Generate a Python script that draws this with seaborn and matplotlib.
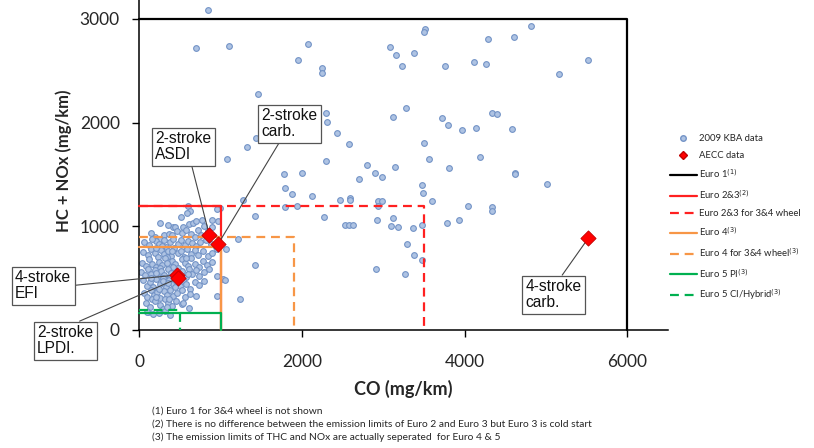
import numpy as np
import pandas as pd
import matplotlib
matplotlib.use('Agg')
import matplotlib.pyplot as plt
import seaborn as sns
from matplotlib.lines import Line2D

# 2009 KBA data, sparse part (CO, HC+NOx in mg/km)
kba_co_sparse = [841, 693, 1107, 2074, 1955, 2250, 2250, 3082, 3156, 3225, 1463, 3283, 2299, 2307,
                 3119, 2426, 1435, 2578, 1320, 1082, 2291, 2803, 3143, 1783, 2004, 2894, 2980, 2697,
                 1787, 1881, 2119, 2471, 2594, 2594, 2938, 2980, 1279, 1791, 1935, 2938, 1426, 2274,
                 2529, 2574, 2631, 2926, 3119, 3094, 3176, 3295, 1209, 1070, 1422, 2910, 3266, 1234,
                 1033, 1050, 951, 955, 992,
                 3512, 3504, 4819, 4287, 4610, 3373, 3758, 4119, 4262, 5516, 5159, 3717, 3799, 3971,
                 4139, 4332, 4401, 4577, 3500, 3565, 3803, 4184, 4618, 4625, 5012, 3475, 3487, 3598,
                 4044, 4339, 4339, 3361, 3479, 3782, 3930, 3373, 3479]
kba_hc_sparse = [3086, 2722, 2742, 2755, 2601, 2524, 2481, 2726, 2649, 2549, 2276, 2144, 2090, 2009,
                 2051, 1900, 1855, 1797, 1762, 1649, 1627, 1591, 1572, 1501, 1518, 1511, 1473, 1459,
                 1366, 1311, 1295, 1251, 1276, 1254, 1241, 1241, 1254, 1189, 1199, 1196, 1102, 1087,
                 1015, 1015, 1015, 1061, 1077, 1006, 993, 826, 874, 778, 630, 588, 540, 299,
                 489, 482, 518, 328, 1176,
                 2906, 2874, 2932, 2803, 2822, 2674, 2549, 2581, 2562, 2604, 2469, 2041, 1980, 1932,
                 1948, 2093, 2080, 1938, 1803, 1646, 1562, 1671, 1511, 1505, 1405, 1398, 1324, 1241,
                 1196, 1186, 1148, 987, 1010, 1032, 1061, 720, 678]

# 2009 KBA data, dense cluster below 1000 mg/km CO
kba_co_cluster = [600, 620, 590, 510, 950,
                  260, 420, 440, 540, 610, 660, 700, 770, 890, 970, 800, 350,
                  190, 300, 360, 460, 520, 580, 640, 720, 760, 850, 900, 150, 400, 680, 260,
                  60, 120, 200, 240, 300, 330, 380, 420, 470, 510, 560, 600, 650, 700, 750, 820, 880, 940, 160, 280,
                  50, 110, 150, 190, 230, 270, 310, 350, 390, 430, 470, 510, 550, 590, 630, 680, 720, 780, 850, 900, 960, 200, 400, 340,
                  30, 80, 120, 160, 200, 240, 280, 320, 360, 400, 440, 480, 520, 560, 600, 640, 680, 730, 780, 830, 900, 250, 420, 580, 340,
                  20, 70, 110, 150, 190, 230, 270, 310, 350, 390, 420, 530, 570, 610, 650, 700, 740, 800, 860, 210, 290, 600, 380,
                  40, 90, 130, 170, 210, 250, 290, 330, 370, 410, 450, 500, 540, 580, 620, 680, 730, 790, 150, 350, 440,
                  60, 100, 140, 180, 220, 260, 300, 340, 380, 420, 460, 520, 560, 620, 700, 240, 160, 320,
                  80, 130, 190, 250, 290, 350, 400, 450, 530, 210, 370,
                  170, 240, 320, 380, 110, 91, 237, 606, 336, 541]
kba_hc_cluster = [1200, 1150, 1130, 1090, 1170,
                  1030, 990, 995, 990, 1020, 1030, 1050, 1060, 1060, 1050, 1000, 1010,
                  900, 915, 930, 950, 940, 960, 930, 960, 920, 950, 990, 940, 920, 900, 880,
                  850, 820, 860, 830, 870, 800, 850, 880, 830, 870, 820, 860, 840, 810, 850, 870, 830, 800, 880, 810,
                  750, 720, 780, 740, 700, 770, 730, 760, 710, 790, 740, 760, 700, 780, 730, 770, 720, 760, 710, 740, 780, 790, 760, 700,
                  650, 620, 680, 640, 610, 660, 630, 690, 620, 670, 640, 600, 680, 650, 620, 690, 640, 610, 670, 630, 660, 600, 610, 690, 650,
                  560, 530, 590, 540, 580, 510, 570, 530, 590, 550, 520, 570, 510, 590, 540, 580, 520, 560, 590, 550, 500, 540, 510,
                  480, 420, 460, 410, 490, 440, 470, 410, 480, 440, 470, 420, 480, 440, 400, 460, 430, 470, 500, 450, 410,
                  360, 320, 390, 340, 370, 310, 380, 340, 390, 330, 360, 390, 320, 350, 330, 400, 300, 300,
                  260, 220, 280, 240, 200, 260, 230, 280, 250, 320, 300,
                  150, 170, 180, 140, 170, 177, 164, 212, 225, 257]

# AECC data
aecc_labels = ['2-stroke\nASDI', '2-stroke\ncarb.', '4-stroke\nEFI', '2-stroke\nLPDI.', '4-stroke\ncarb.']
aecc_co = [860, 970, 460, 480, 5520]
aecc_hc = [920, 830, 530, 500, 885]

# emission limits (CO limit, HC+NOx limit)
euro_names = ['Euro 1$^{(1)}$', 'Euro 2&3$^{(2)}$', 'Euro 2&3 for 3&4 wheel', 'Euro 4$^{(3)}$',
              'Euro 4 for 3&4 wheel$^{(3)}$', 'Euro 5 PI$^{(3)}$', 'Euro 5 CI/Hybrid$^{(3)}$']
euro_co = [6000, 1000, 3500, 1000, 1900, 1000, 500]
euro_hc = [3000, 1200, 1200, 800, 900, 160, 190]
euro_colors = ['black', '#ff2020', '#ff2020', '#f79646', '#f79646', '#00b050', '#00b050']
euro_dashed = [False, False, True, False, True, False, True]

footnotes = ['(1) Euro 1 for 3&4 wheel is not shown',
             '(2) There is no difference between the emission limits of Euro 2 and Euro 3 but Euro 3 is cold start',
             '(3) The emission limits of THC and NOx are actually seperated  for Euro 4 & 5']

sns.set_style('white')
plt.rcParams['font.family'] = ['Lato', 'DejaVu Sans']

kba = pd.DataFrame({'CO': kba_co_sparse + kba_co_cluster, 'HCNOx': kba_hc_sparse + kba_hc_cluster})
aecc = pd.DataFrame({'CO': aecc_co, 'HCNOx': aecc_hc, 'label': aecc_labels})

fig = plt.figure(figsize=(8.14, 4.48), dpi=100)
ax = fig.add_axes([0.1711, 0.2634, 0.6495, 0.7407])

kba_face, kba_edge = '#aec3e3', '#7393c6'
sns.scatterplot(data=kba, x='CO', y='HCNOx', ax=ax, s=17, color=kba_face,
                edgecolor=kba_edge, linewidth=0.8, zorder=2, legend=False)

#limit boxes
for co, hc, c, d in zip(euro_co, euro_hc, euro_colors, euro_dashed):
    ls = (0, (4, 2.6)) if d else '-'
    ax.plot([0, co, co], [hc, hc, 0], color=c, lw=1.6, linestyle=ls, zorder=3, clip_on=False)

sns.scatterplot(data=aecc, x='CO', y='HCNOx', ax=ax, s=60, marker='D', color='#ff0000',
                edgecolor='#c00000', linewidth=0.6, zorder=5, legend=False)

#labels for AECC points
box = dict(boxstyle='square,pad=0.22', fc='white', ec='#555555', lw=0.9)
label_pos = [(193, 1919), (1496, 2141), (-1528, 579), (-1257, 48), (4752, 492)]
label_rel = [(0.64, 0), (0.36, 0), (1, 0.5), (0.6, 1), (0.6, 1)]
for i in range(len(aecc)):
    ax.annotate(aecc['label'][i], xy=(aecc['CO'][i], aecc['HCNOx'][i]), xytext=label_pos[i],
                ha='left', va='top', fontsize=11.2, family='Liberation Sans', linespacing=1.12,
                color='#111111', bbox=box, annotation_clip=False, zorder=4,
                arrowprops=dict(arrowstyle='-', color='#444444', lw=0.8, relpos=label_rel[i],
                                shrinkA=0, shrinkB=0))

ax.set_xlim(0, 6500)
ax.set_ylim(0, 3200)
ax.set_xticks([0, 2000, 4000, 6000])
ax.set_yticks([0, 1000, 2000, 3000])
for s in ['top', 'right']:
    ax.spines[s].set_visible(False)
for s in ['left', 'bottom']:
    ax.spines[s].set_linewidth(1.1)
    ax.spines[s].set_color('black')
ax.tick_params(axis='both', direction='out', length=5, width=1, color='black', labelsize=12.5, bottom=True, left=True)
ax.tick_params(axis='x', pad=12)
ax.tick_params(axis='y', pad=9)
ax.set_xlabel('CO (mg/km)', fontsize=13, fontweight='bold')
ax.set_ylabel('HC + NOx (mg/km)', fontsize=12, fontweight='bold')
ax.xaxis.set_label_coords(0.5, -0.15)
ax.yaxis.set_label_coords(-0.127, 0.51)

#legend
handles = [Line2D([], [], marker='o', ls='none', mfc=kba_face, mec=kba_edge, ms=4),
           Line2D([], [], marker='D', ls='none', mfc='#ff0000', mec='#c00000', ms=4)]
for c, d in zip(euro_colors, euro_dashed):
    handles.append(Line2D([], [], color=c, lw=1.6, linestyle=(0, (4, 2.6)) if d else '-'))
labels = ['2009 KBA data', 'AECC data'] + euro_names
ax.legend(handles, labels, loc='upper left', bbox_to_anchor=(670 / 814, 1 - 134 / 448),
          bbox_transform=fig.transFigure, frameon=False, fontsize=6.8, handlelength=2.85,
          handletextpad=0.25, labelspacing=0.84, borderpad=0, borderaxespad=0)

for i, t in enumerate(footnotes):
    fig.text(152 / 814, 1 - (411 + 13 * i) / 448, t, fontsize=7.4, va='center', ha='left')

plt.savefig('out.png', dpi=100)
